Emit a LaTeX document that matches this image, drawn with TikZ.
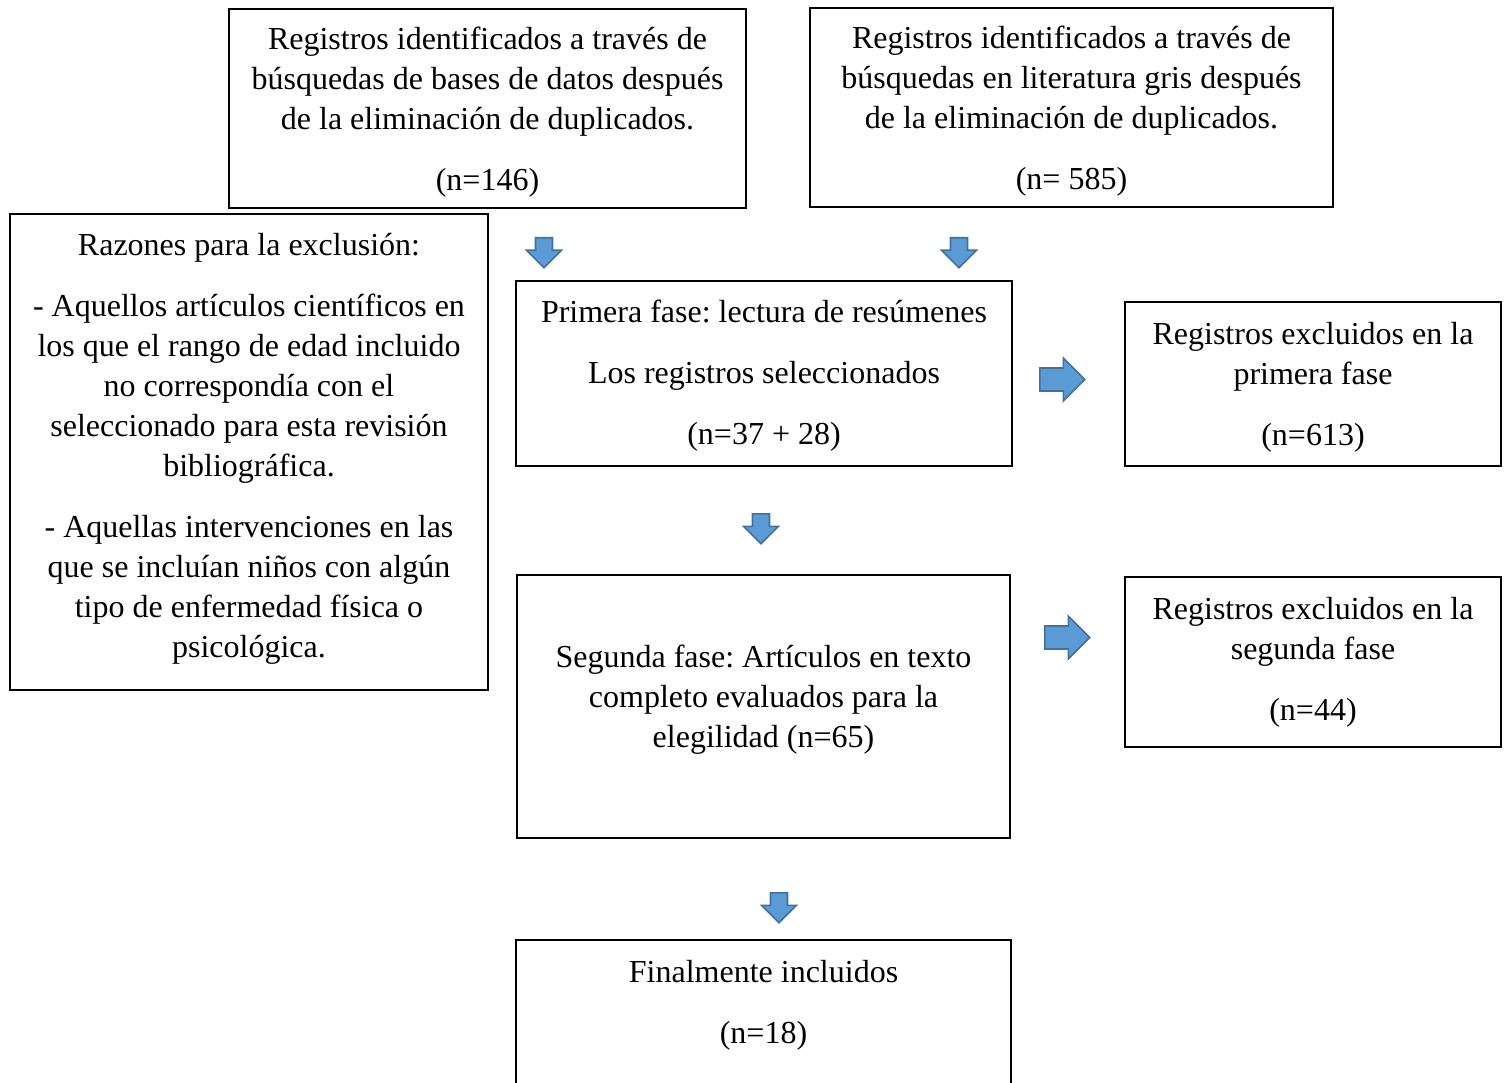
\documentclass[tikz,border=0pt]{standalone}
\usepackage{fontspec}
\setmainfont{Liberation Serif}
\frenchspacing
\usetikzlibrary{shapes.arrows}
\definecolor{arrowfill}{RGB}{91,155,213}
\definecolor{arrowline}{RGB}{65,113,156}
\tikzset{
  box/.style        = {draw=black, line width=2.2pt, align=center, inner sep=0pt,
                       font=\fontsize{32}{40}\selectfont, text depth=-2pt},
  blockarrow/.style = {single arrow, draw=arrowline, fill=arrowfill, line width=1.6pt,
                       minimum width=0pt, anchor=tail},
  blockdown/.style  = {blockarrow, shape border rotate=270, inner xsep=7.7pt, inner ysep=0pt,
                       single arrow head extend=9pt, minimum height=30pt},
  blockright/.style = {blockarrow, inner xsep=0pt, inner ysep=10.7pt,
                       single arrow head extend=10pt, minimum height=45pt},
}

\begin{document}
\begin{tikzpicture}[x=1pt, y=-1pt]
\useasboundingbox (0,0) rectangle (1506,1083);
% search sources
\node[box, minimum width=517pt, minimum height=199pt] (regbases) at (487.5,108.5)
  {Registros identificados a través de\\búsquedas de bases de datos después\\de la eliminación de duplicados.\\[21pt](n=146)};
\node[box, minimum width=523pt, minimum height=199pt] (reggris) at (1071.5,107.5)
  {Registros identificados a través de\\búsquedas en literatura gris después\\de la eliminación de duplicados.\\[21pt](n= 585)};
% exclusion criteria
\node[box, minimum width=478pt, minimum height=476pt, text depth=13pt] (razones) at (249,452)
  {Razones para la exclusión:\\[21pt]- Aquellos artículos científicos en\\los que el rango de edad incluido\\no correspondía con el\\seleccionado para esta revisión\\bibliográfica.\\[21pt]- Aquellas intervenciones en las\\que se incluían niños con algún\\tipo de enfermedad física o\\psicológica.};
% screening phases
\node[box, minimum width=496pt, minimum height=185pt, text depth=3pt] (fase1) at (764,373.5)
  {Primera fase: lectura de resúmenes\\[21pt]Los registros seleccionados\\[21pt](n=37 + 28)};
\node[box, minimum width=376pt, minimum height=164pt, text depth=1pt] (excl1) at (1313,384)
  {Registros excluidos en la\\primera fase\\[21pt](n=613)};
\node[box, minimum width=493pt, minimum height=263pt, text depth=21pt] (fase2) at (763.5,706.5)
  {Segunda fase: Artículos en texto\\completo evaluados para la\\elegilidad (n=65)};
\node[box, minimum width=376pt, minimum height=170pt, text depth=6.5pt] (excl2) at (1313,662)
  {Registros excluidos en la\\segunda fase\\[21pt](n=44)};
% final count, box runs past the page bottom
\node[box, minimum width=495pt, anchor=north, inner ysep=20pt, text depth=130pt] (incluidos) at (763.5,939)
  {Finalmente incluidos\\[21pt](n=18)};

% block arrows
\node[blockdown] (flechabases) at (544,237) {};
\node[blockdown] (flechagris) at (959,237) {};
\node[blockright] (flechaexcl1) at (1039,379.5) {};
\node[blockdown] (flechafase2) at (761,513) {};
\node[blockright] (flechaexcl2) at (1044,637.5) {};
\node[blockdown] (flechafinal) at (779,892) {};
\end{tikzpicture}
\end{document}
